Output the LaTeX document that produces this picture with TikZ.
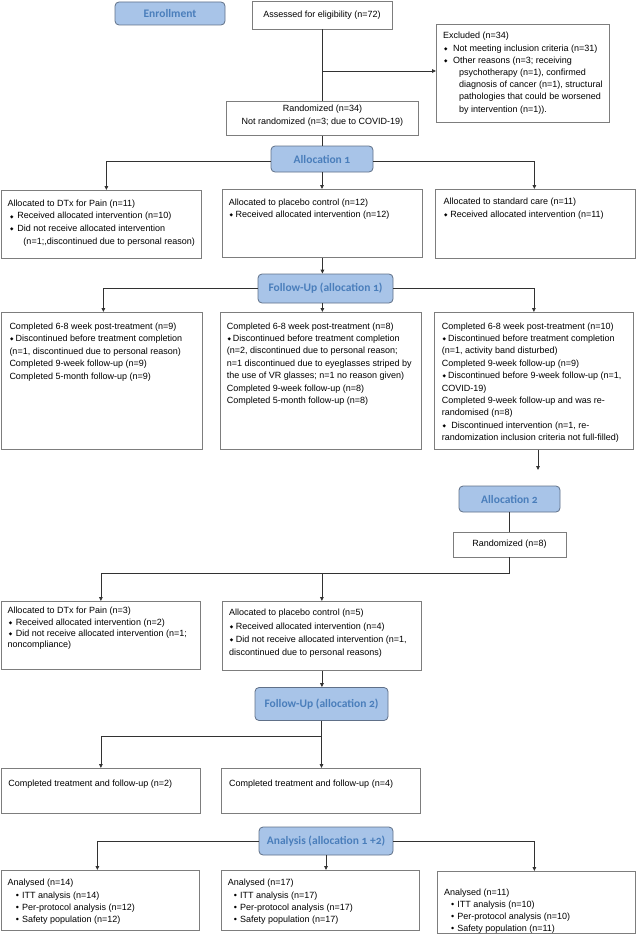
\documentclass[tikz,border=0pt]{standalone}
\usepackage{fontspec}
\setmainfont{Liberation Sans}
\newfontfamily\hdrfont[Numbers=OldStyle]{Carlito}
\newfontfamily\djv{DejaVu Sans}
\usetikzlibrary{arrows.meta,calc}
\definecolor{boxgray}{RGB}{125,125,125}
\definecolor{linec}{RGB}{50,50,50}
\definecolor{hdrfill}{RGB}{168,196,232}
\definecolor{hdrline}{RGB}{96,112,136}
\definecolor{hdrtext}{RGB}{74,126,187}
\newcommand\dm{{\djv\fontsize{4.5}{4.5}\selectfont\raisebox{0.9pt}{◆}}}
\newcommand\bul{•}
\tikzset{
  box/.style={draw=boxgray, line width=0.8pt, fill=white, anchor=north west, inner sep=0pt},
  txt/.style={anchor=north west, inner sep=0pt, align=left},
  hdr/.style={draw=hdrline, fill=hdrfill, rounded corners=4pt, line width=0.8pt, text=hdrtext,
              font=\hdrfont\bfseries\fontsize{11.5}{12}\selectfont, inner sep=0pt},
  ln/.style={draw=linec, line width=0.8pt},
  arr/.style={draw=linec, line width=0.8pt, -{Triangle[length=4pt,width=3.6pt]}},
}
% name, x, y, w, h, xpad, first baseline, skip, text
\newcommand\bx[9]{%
  \node[box, minimum width=#4pt, minimum height=#5pt] (#1) at (#2,#3) {};
  \node[txt, font=\fontsize{9}{#8}\selectfont] (#1t) at ([xshift=#6pt]#1.north west) {\rule{0pt}{#7pt}#9};}
\begin{document}
\begin{tikzpicture}[x=1pt,y=-1pt]
\useasboundingbox (0,0) rectangle (636,934);

% ---------- enrollment ----------
\node[hdr, minimum width=110pt, minimum height=23pt] (enr) at (170,13.5) {Enrollment};
\node[box, anchor=center, minimum width=140pt, minimum height=28pt, font=\fontsize{9}{11}\selectfont] (ass) at (322,15) {Assessed for eligibility (n=72)};

\bx{excl}{436}{24}{173}{98}{7}{14.7}{12.2}{Excluded (n=34)\\
\hspace*{1pt}\dm\hspace{5.5pt}Not meeting inclusion criteria (n=31)\\
\hspace*{1pt}\dm\hspace{5.5pt}Other reasons (n=3; receiving\\
\hspace*{16pt}psychotherapy (n=1), confirmed\\
\hspace*{16pt}diagnosis of cancer (n=1), structural\\
\hspace*{16pt}pathologies that could be worsened\\
\hspace*{16pt}by intervention (n=1)).}

\node[box, minimum width=192pt, minimum height=34pt] (rand) at (226,101) {};
\node[anchor=north, inner sep=0pt, align=center, font=\fontsize{9}{12.6}\selectfont] (randt) at (rand.north) {\rule{0pt}{10.2pt}Randomized (n=34)\\Not randomized (n=3; due to COVID-19)};

% ---------- allocation 1 ----------
\node[hdr, minimum width=102pt, minimum height=26pt] (al1) at (322,159) {Allocation 1};

\bx{dtx1}{1}{190}{200}{68}{6.3}{15.9}{12.8}{Allocated to DTx for Pain (n=11)\\
\hspace*{2.5pt}\dm\hspace{4pt}Received allocated intervention (n=10)\\
\hspace*{2.5pt}\dm\hspace{4pt}Did not receive allocated intervention\\
\hspace*{16pt}(n=1;,discontinued due to personal reason)}

\bx{plc1}{222}{189}{200}{68}{6.7}{15.8}{12.3}{Allocated to placebo control (n=12)\\
\hspace*{0.7pt}\dm\hspace{2.5pt}Received allocated intervention (n=12)}

\bx{std1}{435}{189}{200}{69}{8.3}{15.6}{12.3}{Allocated to standard care (n=11)\\
\hspace*{0.7pt}\dm\hspace{2.8pt}Received allocated intervention (n=11)}

% ---------- follow-up 1 ----------
\node[hdr, minimum width=135pt, minimum height=29pt] (fu1) at (325.5,288.5) {Follow-Up (allocation 1)};

\bx{fl1}{1}{312}{201}{137}{8.3}{16.8}{12.6}{Completed 6-8 week post-treatment (n=9)\\
\hspace*{0.6pt}\dm\hspace{2pt}Discontinued before treatment completion\\
(n=1, discontinued due to personal reason)\\
Completed 9-week follow-up (n=9)\\
Completed 5-month follow-up (n=9)}

\bx{fm1}{220}{312}{201}{137}{6.7}{16.8}{12.4}{Completed 6-8 week post-treatment (n=8)\\
\hspace*{0.6pt}\dm\hspace{2pt}Discontinued before treatment completion\\
(n=2, discontinued due to personal reason;\\
n=1 discontinued due to eyeglasses striped by\\
the use of VR glasses; n=1 no reason given)\\
Completed 9-week follow-up (n=8)\\
Completed 5-month follow-up (n=8)}

\bx{fr1}{434}{312}{199}{137}{7.7}{16.8}{12.4}{Completed 6-8 week post-treatment (n=10)\\
\hspace*{0.6pt}\dm\hspace{2.2pt}Discontinued before treatment completion\\
(n=1, activity band disturbed)\\
Completed 9-week follow-up (n=9)\\
\hspace*{0.6pt}\dm\hspace{2.2pt}Discontinued before 9-week follow-up (n=1,\\
COVID-19)\\
Completed 9-week follow-up and was re-\\
randomised (n=8)\\
\hspace*{0.6pt}\dm\hspace{5.5pt}Discontinued intervention (n=1, re-\\
randomization inclusion criteria not full-filled)}

\coordinate (c1) at (538,470);

% ---------- allocation 2 ----------
\node[hdr, minimum width=101pt, minimum height=26pt] (al2) at (509.5,499) {Allocation 2};
\node[box, anchor=center, minimum width=113pt, minimum height=25pt, font=\fontsize{9}{11}\selectfont] (rand2) at (509.5,544.5) {Randomized (n=8)};
\coordinate (j2) at (509.5,573);

\bx{a2l}{1}{601}{199}{68}{6.3}{12.4}{11.4}{Allocated to DTx for Pain (n=3)\\
\hspace*{1.5pt}\dm\hspace{3.5pt}Received allocated intervention (n=2)\\
\hspace*{1.5pt}\dm\hspace{3.5pt}Did not receive allocated intervention (n=1;\\
noncompliance)}

\bx{a2m}{222}{601}{199}{69}{7}{14.6}{13.2}{Allocated to placebo control (n=5)\\
\hspace*{0.6pt}\dm\hspace{2.6pt}Received allocated intervention (n=4)\\
\hspace*{0.6pt}\dm\hspace{2.6pt}Did not receive allocated intervention (n=1,\\
discontinued due to personal reasons)}

% ---------- follow-up 2 ----------
\node[hdr, minimum width=133pt, minimum height=33pt] (fu2) at (321.5,704) {Follow-Up (allocation 2)};
\coordinate (j3) at (321.5,736);

\bx{cl}{1}{768}{199}{45}{7.1}{18.5}{12.4}{Completed treatment and follow-up (n=2)}
\bx{cm}{221}{768}{199}{45}{8}{18.5}{12.4}{Completed treatment and follow-up (n=4)}

% ---------- analysis ----------
\node[hdr, minimum width=134pt, minimum height=28pt] (an) at (326,841) {Analysis (allocation 1 +2)};

\bx{al}{1}{870}{198}{60}{6.3}{15.5}{12.3}{Analysed (n=14)\\
\hspace*{8.5pt}\bul\hspace{3pt}ITT analysis (n=14)\\
\hspace*{8.5pt}\bul\hspace{3pt}Per-protocol analysis (n=12)\\
\hspace*{8.5pt}\bul\hspace{3pt}Safety population (n=12)}

\bx{am}{221}{870}{198}{60}{6.7}{15.5}{12.3}{Analysed (n=17)\\
\hspace*{6pt}\bul\hspace{3pt}ITT analysis (n=17)\\
\hspace*{6pt}\bul\hspace{3pt}Per-protocol analysis (n=17)\\
\hspace*{6pt}\bul\hspace{3pt}Safety population (n=17)}

\bx{ar}{437}{871}{198}{62}{7}{23.9}{12.2}{Analysed (n=11)\\
\hspace*{7pt}\bul\hspace{3pt}ITT analysis (n=10)\\
\hspace*{7pt}\bul\hspace{3pt}Per-protocol analysis (n=10)\\
\hspace*{7pt}\bul\hspace{3pt}Safety population (n=11)}

% ---------- connectors ----------
\coordinate (jx) at (322,71);
\draw[ln] (ass.south) -- (ass.south |- rand.north);
\draw[arr] (jx) -- (jx -| excl.west);
\draw[ln] (rand.south) -- (rand.south |- al1.north);
\draw[arr] ([yshift=-2.5pt]al1.west) -| ([xshift=5pt]dtx1.north);
\draw[arr] ([yshift=-2.5pt]al1.east) -| ([xshift=-1pt]std1.north);
\draw[arr] (al1.south) -- (al1.south |- plc1.north);

\draw[arr] (plc1.south) -- (plc1.south |- fu1.north);
\draw[arr] (fu1.west) -| ([xshift=1.5pt]fl1.north);
\draw[arr] (fu1.east) -| (fr1.north);
\draw[arr] (plc1.south |- fu1.south) -- (plc1.south |- fm1.north);
\draw[arr] (c1 |- fr1.south) -- (c1);

\draw[ln] (al2.south) -- (rand2.north);
\draw[ln] (rand2.south) -- (j2);
\draw[arr] (j2) -| (a2l.north);
\draw[arr] (a2m.north |- j2) -- (a2m.north);

\draw[arr] (a2m.south) -- (a2m.south |- fu2.north);
\draw[arr] (fu2.south) -- (fu2.south |- cm.north);
\draw[arr] (j3) -| (cl.north);

\draw[arr] (an.west) -| ([xshift=-3pt]al.north);
\draw[arr] (an.east) -| ([xshift=-2pt]ar.north);
\draw[arr] (an.south) -- (an.south |- am.north);
\end{tikzpicture}
\end{document}
